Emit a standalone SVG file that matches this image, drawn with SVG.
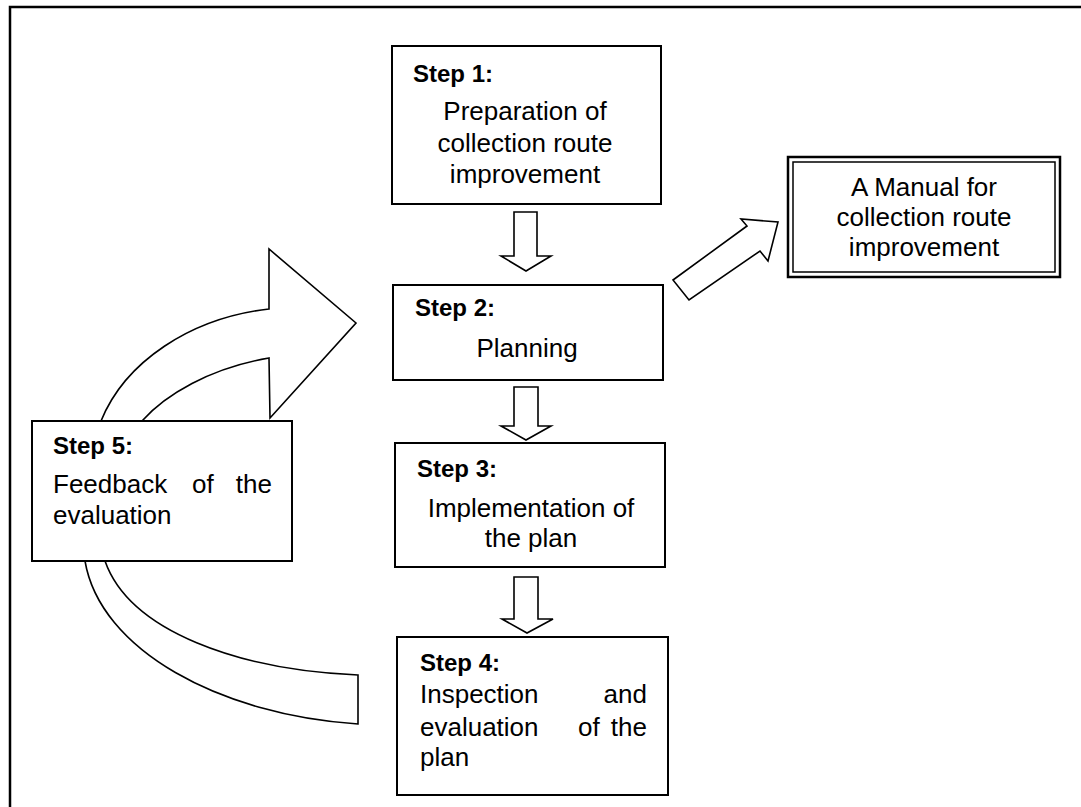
<svg xmlns="http://www.w3.org/2000/svg" width="1081" height="807" viewBox="0 0 1081 807">
<style>
.box{fill:#fff;stroke:#000;stroke-width:2}
.shape{fill:#fff;stroke:#000;stroke-width:1.6;stroke-linejoin:miter}
.hd{font-family:"Liberation Sans",Arial,sans-serif;font-weight:bold;font-size:24px;fill:#000}
.tx{font-family:"Liberation Sans",Arial,sans-serif;font-size:26px;fill:#000}
.c{text-anchor:middle}
.e{text-anchor:end}
</style>
<rect x="0" y="0" width="1081" height="807" fill="#fff"/>
<path d="M10,807 L10,7 L1081,7" fill="none" stroke="#000" stroke-width="2.5"/>
<g id="connectors">
<polygon class="shape" points="514,212 537,212 537,256 551,256 526,271 501,256 514,256"/>
<polygon class="shape" points="514,387 538,387 538,426 551,426 526,440 501,426 514,426"/>
<polygon class="shape" points="514,577 538,577 538,619 553,619 527,633 502,619 514,619"/>
<polygon class="shape" points="673,280 747,226 741,219 778,222 768,261 760,251 689,300"/>
<path class="shape" d="M101,421 C125,362 190,318 269,309 L269,249 L356,323 L270,418 L269,358 C210,368 165,395 142,421 Z"/>
<path class="shape" d="M85,561 C100,650 220,715 358,724 L358,675 C240,670 130,632 105,561 Z"/>
</g>
<g id="step1">
<rect class="box" x="392" y="46" width="269" height="158"/>
<text class="hd" x="413" y="82">Step 1:</text>
<text class="tx c" x="525" y="120">Preparation of</text>
<text class="tx c" x="525" y="152">collection route</text>
<text class="tx c" x="525" y="183">improvement</text>
</g>
<g id="step2">
<rect class="box" x="393" y="285" width="270" height="95"/>
<text class="hd" x="415" y="316">Step 2:</text>
<text class="tx c" x="527" y="357">Planning</text>
</g>
<g id="step3">
<rect class="box" x="395" y="443" width="270" height="124"/>
<text class="hd" x="417" y="477">Step 3:</text>
<text class="tx c" x="531" y="517">Implementation of</text>
<text class="tx c" x="531" y="547">the plan</text>
</g>
<g id="step4">
<rect class="box" x="397" y="637" width="271" height="158"/>
<text class="hd" x="420" y="671">Step 4:</text>
<text class="tx" x="420" y="703">Inspection</text>
<text class="tx e" x="647" y="703">and</text>
<text class="tx" x="420" y="736">evaluation</text>
<text class="tx" x="578" y="736">of</text>
<text class="tx e" x="647" y="736">the</text>
<text class="tx" x="420" y="766">plan</text>
</g>
<g id="step5">
<rect class="box" x="32" y="421" width="260" height="140"/>
<text class="hd" x="53" y="454">Step 5:</text>
<text class="tx" x="53" y="493">Feedback</text>
<text class="tx" x="192" y="493">of</text>
<text class="tx e" x="272" y="493">the</text>
<text class="tx" x="53" y="524">evaluation</text>
</g>
<g id="manual">
<rect x="788" y="157" width="272" height="120" fill="#fff" stroke="#000" stroke-width="2.5"/>
<rect x="793" y="162" width="262" height="110" fill="none" stroke="#000" stroke-width="1.5"/>
<text class="tx c" x="924" y="196">A Manual for</text>
<text class="tx c" x="924" y="226">collection route</text>
<text class="tx c" x="924" y="256">improvement</text>
</g>
</svg>
